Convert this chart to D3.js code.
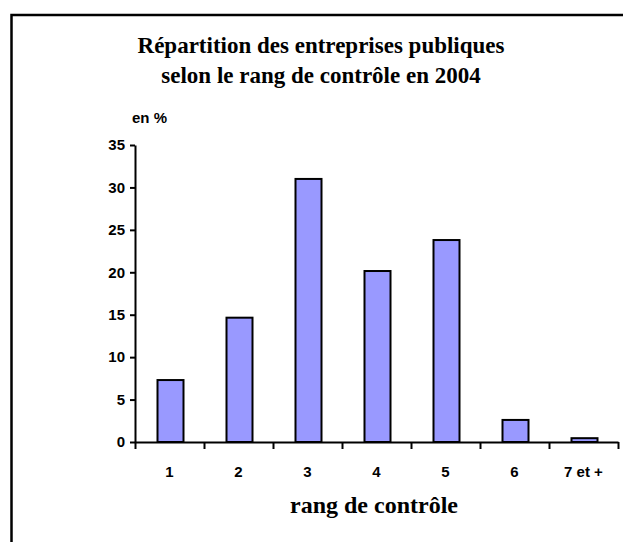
<!DOCTYPE html>
<html lang="fr">
<head>
<meta charset="utf-8">
<title>Répartition des entreprises publiques</title>
<script src="https://d3js.org/d3.v7.min.js"></script>
<style>
  body { margin: 0; background: #fff; }
  .axis path, .axis line { stroke: #000; stroke-width: 2px; }
  .bar { fill: #9999ff; stroke: #000; stroke-width: 2px; }
  .title { font-family: "Liberation Serif", "Times New Roman", serif; font-weight: bold; font-size: 23px; }
</style>
</head>
<body>
<svg width="623" height="542"></svg>
<script>
// data
var categories = ["1", "2", "3", "4", "5", "6", "7 et +"];
var values = [7.3, 14.65, 31.0, 20.15, 23.8, 2.6, 0.45];
var yTicks = [0, 5, 10, 15, 20, 25, 30, 35];

var svg = d3.select("svg");

function labelFont(sel) {
  sel.style("font-family", "'Liberation Sans', Arial, sans-serif")
     .style("font-weight", "bold")
     .style("font-size", "15px")
     .style("fill", "#000");
}

// frame, cut off on the right and at the bottom like the original
svg.append("rect")
    .attr("x", 11.5).attr("y", 15)
    .attr("width", 700).attr("height", 600)
    .attr("fill", "none")
    .attr("stroke", "#000")
    .attr("stroke-width", 2.5);

var x = d3.scaleBand().domain(categories).range([135, 618]).padding(0),
    y = d3.scaleLinear().domain([0, 35]).range([442, 145]);

// title
svg.append("text").attr("class", "title")
    .attr("x", 321).attr("y", 53).attr("text-anchor", "middle")
    .text("Répartition des entreprises publiques");
svg.append("text").attr("class", "title")
    .attr("x", 321).attr("y", 83).attr("text-anchor", "middle")
    .text("selon le rang de contrôle en 2004");

svg.append("text")
    .attr("x", 132).attr("y", 123)
    .call(labelFont)
    .text("en %");

// bars
var bw = 26;
svg.selectAll(".bar")
  .data(values)
  .enter().append("rect")
    .attr("class", "bar")
    .attr("x", function(d, i) { return x(categories[i]) + x.bandwidth() / 2 - bw / 2 + 1; })
    .attr("y", function(d) { return y(d); })
    .attr("width", bw)
    .attr("height", function(d) { return y(0) - y(d); });

// y axis
var gy = svg.append("g")
    .attr("class", "axis")
    .attr("transform", "translate(135,0)")
    .call(d3.axisLeft(y).tickValues(yTicks).tickSize(5).tickSizeOuter(0).tickPadding(5));
gy.selectAll("text").call(labelFont);

// x axis: ticks between categories, labels centred
var xEdges = d3.scaleLinear().domain([0, categories.length]).range([135, 618]);
var gx = svg.append("g")
    .attr("class", "axis")
    .attr("transform", "translate(0,442)")
    .call(d3.axisBottom(xEdges).ticks(categories.length).tickSize(7).tickSizeOuter(0).tickFormat(""));
gx.selectAll(".lbl")
  .data(categories)
  .enter().append("text")
    .attr("class", "lbl")
    .attr("x", function(d) { return x(d) + x.bandwidth() / 2; })
    .attr("y", 35)
    .attr("text-anchor", "middle")
    .call(labelFont)
    .text(function(d) { return d; });

svg.append("text").attr("class", "title")
    .attr("x", 374).attr("y", 513).attr("text-anchor", "middle")
    .style("font-size", "24px")
    .text("rang de contrôle");
</script>
</body>
</html>
